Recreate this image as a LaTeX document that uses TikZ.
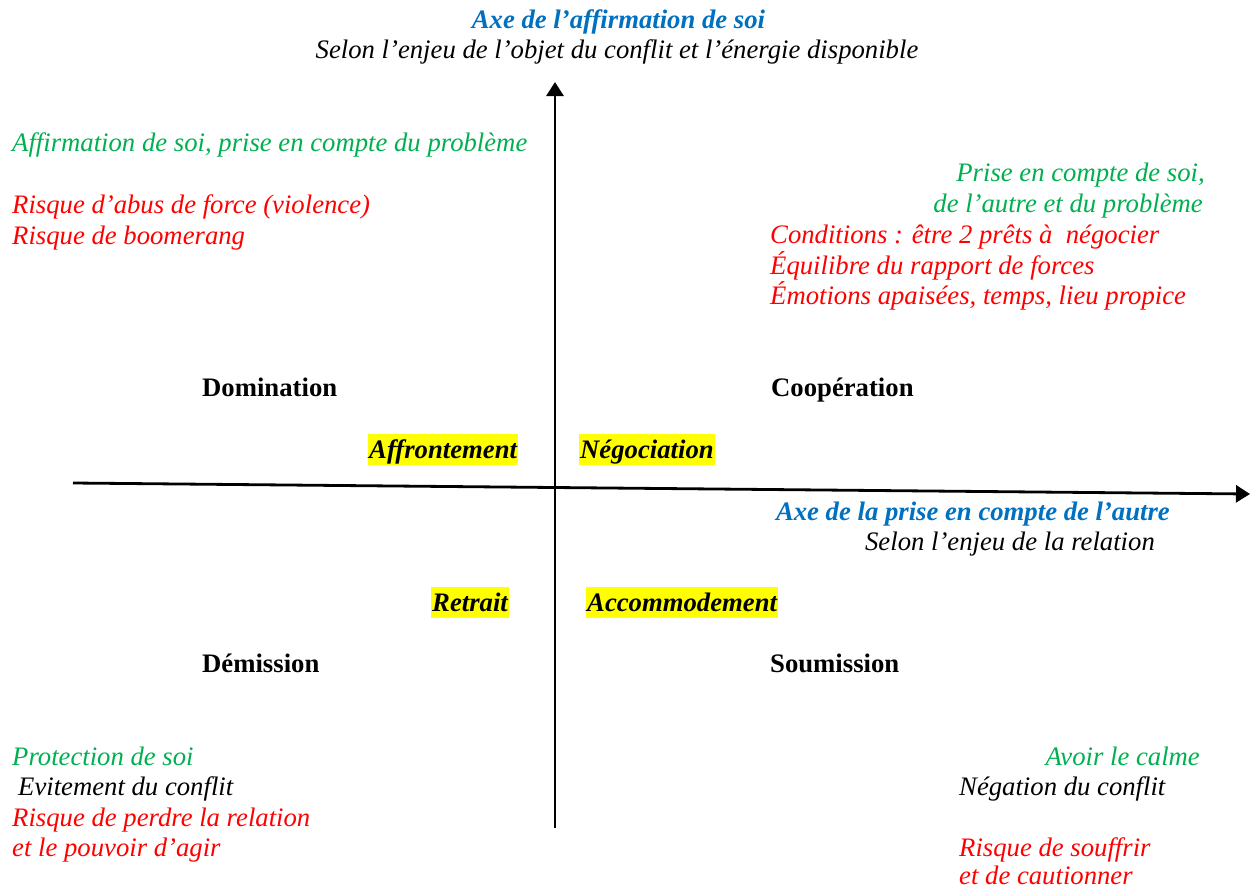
\documentclass[tikz,border=0pt]{standalone}
\usepackage{fontspec}
\setmainfont{Liberation Serif}
\usetikzlibrary{arrows.meta}
\definecolor{axisblue}{HTML}{0070C0}
\definecolor{goodgreen}{HTML}{00B050}
\definecolor{riskred}{HTML}{FF0000}
\definecolor{marker}{HTML}{FFFF00}
\newcommand{\bodysize}{\fontsize{26.7}{31}\selectfont}
\begin{document}
\begin{tikzpicture}[x=1pt,y=-1pt,
  every node/.style={inner sep=0pt, font=\bodysize},
  txt/.style={font=\bodysize\itshape},
  axistitle/.style={font=\bodysize\bfseries\itshape, text=axisblue},
  good/.style={txt, text=goodgreen},
  risk/.style={txt, text=riskred},
  quadrant/.style={font=\bodysize\bfseries},
  strategy/.style={font=\bodysize\bfseries\itshape, fill=marker,
    inner xsep=1pt, text height=24pt, text depth=6.5pt},
  axisline/.style={line width=2.8pt, -{Triangle[length=14pt,width=17pt]}}
]
\useasboundingbox (0,0) rectangle (1253,889);

% axes
\coordinate (hstart) at (73,483);
\coordinate (hend) at (1250,494);
\coordinate (vstart) at (555,828);
\coordinate (vend) at (555,82);
\draw[axisline] (hstart) -- (hend);
\draw[axisline] (vstart) -- (vend);

% vertical axis title
\node[axistitle, anchor=base] (vtitle) at (618.5,28) {Axe de l’affirmation de soi};
\node[txt, anchor=base] (vsub) at (617,58) {Selon l’enjeu de l’objet du conflit et l’énergie disponible};

% horizontal axis title
\node[axistitle, anchor=base east] (htitle) at (1170,520) {Axe de la prise en compte de l’autre};
\node[txt, anchor=base east] (hsub) at (1155,550) {Selon l’enjeu de la relation};

% top left: domination
\node[good, anchor=base west] (tl1) at (12,151) {Affirmation de soi, prise en compte du problème};
\node[risk, anchor=base west] (tl2) at (12,213) {Risque d’abus de force (violence)};
\node[risk, anchor=base west] (tl3) at (12,244) {Risque de boomerang};
\node[quadrant, anchor=base west] (domination) at (202,396) {Domination};
\node[strategy, anchor=base west] (affrontement) at (368,458) {Affrontement};

% top right: cooperation
\node[good, anchor=base east] (tr1) at (1205,181) {Prise en compte de soi,};
\node[good, anchor=base east] (tr2) at (1203,212) {de l’autre et du problème};
\node[risk, anchor=base west] (tr3) at (770,243) {Conditions : être 2 prêts à\ \ négocier};
\node[risk, anchor=base west] (tr4) at (770,274) {Équilibre du rapport de forces};
\node[risk, anchor=base west] (tr5) at (770,304) {Émotions apaisées, temps, lieu propice};
\node[quadrant, anchor=base west] (cooperation) at (771,396) {Coopération};
\node[strategy, anchor=base west] (negociation) at (579,458) {Négociation};

% bottom left: demission
\node[strategy, anchor=base west] (retrait) at (431,611) {Retrait};
\node[quadrant, anchor=base west] (demission) at (202,672) {Démission};
\node[good, anchor=base west] (bl1) at (12,765) {Protection de soi};
\node[txt, anchor=base west] (bl2) at (18,795) {Evitement du conflit};
\node[risk, anchor=base west] (bl3) at (12,826) {Risque de perdre la relation};
\node[risk, anchor=base west] (bl4) at (12,856) {et le pouvoir d’agir};

% bottom right: soumission
\node[strategy, anchor=base west] (accommodement) at (586,611) {Accommodement};
\node[quadrant, anchor=base west] (soumission) at (770,672) {Soumission};
\node[good, anchor=base east] (br1) at (1200,765) {Avoir le calme};
\node[txt, anchor=base west] (br2) at (959,795) {Négation du conflit};
\node[risk, anchor=base west] (br3) at (959,856) {Risque de souffrir};
\node[risk, anchor=base west] (br4) at (959,884) {et de cautionner};
\end{tikzpicture}
\end{document}
